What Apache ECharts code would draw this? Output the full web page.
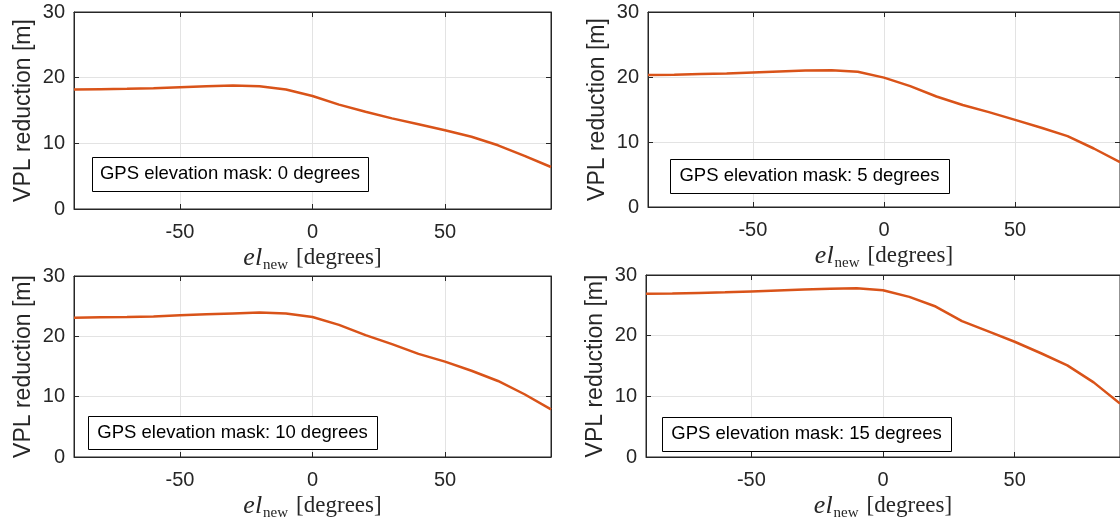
<!DOCTYPE html>
<html>
<head>
<meta charset="utf-8">
<script src="https://cdn.jsdelivr.net/npm/echarts@6/dist/echarts.min.js"></script>
<style>
  html, body { margin: 0; padding: 0; background: #fff; }
  #chart { width: 1120px; height: 522px; }
</style>
</head>
<body>
<div id="chart"></div>
<script>
// 数据
const elevations = [-90, -80, -70, -60, -50, -40, -30, -20, -10, 0, 10, 20, 30, 40, 50, 60, 70, 80, 90];
const vplMask0 = [18.2, 18.25, 18.3, 18.4, 18.55, 18.7, 18.8, 18.7, 18.2, 17.2, 15.9, 14.8, 13.8, 12.9, 12.0, 11.0, 9.7, 8.1, 6.4];
const vplMask5 = [20.3, 20.35, 20.45, 20.55, 20.7, 20.85, 21.0, 21.05, 20.8, 19.9, 18.6, 17.0, 15.7, 14.6, 13.4, 12.2, 10.9, 9.0, 6.9];
const vplMask10 = [23.1, 23.15, 23.2, 23.3, 23.5, 23.65, 23.8, 23.95, 23.8, 23.2, 21.9, 20.2, 18.7, 17.1, 15.8, 14.3, 12.6, 10.4, 7.9];
const vplMask15 = [26.9, 26.95, 27.05, 27.15, 27.3, 27.45, 27.6, 27.75, 27.8, 27.5, 26.4, 24.8, 22.4, 20.7, 19.0, 17.1, 15.1, 12.3, 8.8];
const maskLabels = ['GPS elevation mask: 0 degrees', 'GPS elevation mask: 5 degrees',
  'GPS elevation mask: 10 degrees', 'GPS elevation mask: 15 degrees'];
const xTicks = [-50, 0, 50];
const yTicks = [0, 10, 20, 30];

const seriesValues = [vplMask0, vplMask5, vplMask10, vplMask15];

// 每个子图的位置
const panels = [
  { left: 74, top: 12, width: 477, height: 197, box: [92, 157, 276, 34] },
  { left: 648, top: 12, width: 477, height: 195, box: [670, 159, 279, 34] },
  { left: 74, top: 276, width: 477, height: 189, box: [88, 416, 289, 33] },
  { left: 646, top: 275, width: 479, height: 192, box: [662, 417, 289, 34] }
];

const axisColor = '#262626';
const gridColor = '#e3e3e3';
const lineColor = '#D95319';

const grids = [], xAxes = [], yAxes = [], series = [], graphics = [];

panels.forEach((p, i) => {
  grids.push({
    left: p.left, top: p.top, width: p.width, height: p.height,
    show: true, borderColor: axisColor, borderWidth: 1, backgroundColor: '#fff'
  });

  // 底部 x 轴
  xAxes.push({
    type: 'value', gridIndex: i, min: -90, max: 90, position: 'bottom',
    name: '{a|el}{b|new}{c|[degrees]}',
    nameLocation: 'middle', nameGap: 34,
    nameTextStyle: {
      rich: {
        a: { fontFamily: 'Liberation Serif', fontStyle: 'italic', fontSize: 26, color: axisColor, lineHeight: 30, verticalAlign: 'middle', padding: [0, 1, 0, 0] },
        b: { fontFamily: 'Liberation Serif', fontSize: 15, color: axisColor, lineHeight: 30, verticalAlign: 'bottom', padding: [0, 8, 0, 0] },
        c: { fontFamily: 'Liberation Serif', fontSize: 23, color: axisColor, lineHeight: 30, verticalAlign: 'middle' }
      }
    },
    axisLine: { show: true, onZero: false, lineStyle: { color: axisColor, width: 1 } },
    axisTick: { show: true, inside: true, length: 5, customValues: xTicks, lineStyle: { color: axisColor } },
    axisLabel: { customValues: xTicks, color: axisColor, fontFamily: 'Liberation Sans', fontSize: 20, margin: 13 },
    splitLine: { show: true, lineStyle: { color: gridColor, width: 1 } }
  });
  // 顶部 x 轴（仅刻度）
  xAxes.push({
    type: 'value', gridIndex: i, min: -90, max: 90, position: 'top',
    axisLine: { show: true, onZero: false, lineStyle: { color: axisColor, width: 1 } },
    axisTick: { show: true, inside: true, length: 5, customValues: xTicks, lineStyle: { color: axisColor } },
    axisLabel: { show: false },
    splitLine: { show: false }
  });

  yAxes.push({
    type: 'value', gridIndex: i, min: 0, max: 30, interval: 10, position: 'left',
    name: 'VPL reduction [m]', nameLocation: 'middle', nameGap: 39,
    nameTextStyle: { color: axisColor, fontFamily: 'Liberation Sans', fontSize: 23 },
    axisLine: { show: true, onZero: false, lineStyle: { color: axisColor, width: 1 } },
    axisTick: { show: true, inside: true, length: 5, lineStyle: { color: axisColor } },
    axisLabel: { color: axisColor, fontFamily: 'Liberation Sans', fontSize: 20, margin: 9 },
    splitLine: { show: true, lineStyle: { color: gridColor, width: 1 } }
  });
  yAxes.push({
    type: 'value', gridIndex: i, min: 0, max: 30, interval: 10, position: 'right',
    axisLine: { show: true, onZero: false, lineStyle: { color: axisColor, width: 1 } },
    axisTick: { show: true, inside: true, length: 5, lineStyle: { color: axisColor } },
    axisLabel: { show: false },
    splitLine: { show: false }
  });

  series.push({
    type: 'line',
    xAxisIndex: i * 2, yAxisIndex: i * 2,
    data: elevations.map((x, k) => [x, seriesValues[i][k]]),
    showSymbol: false, smooth: false,
    lineStyle: { color: lineColor, width: 2.5 },
    itemStyle: { color: lineColor },
    z: 3
  });

  // 注释框
  const [bx, by, bw, bh] = p.box;
  graphics.push({
    type: 'rect', left: bx, top: by, z: 10,
    shape: { width: bw, height: bh },
    style: { fill: '#fff', stroke: '#000', lineWidth: 1 }
  });
  graphics.push({
    type: 'text', z: 11,
    x: bx + bw / 2, y: by + bh / 2,
    style: {
      text: maskLabels[i], fill: '#000',
      font: '18.5px "Liberation Sans"', align: 'center', verticalAlign: 'middle'
    }
  });
});

const chart = echarts.init(document.getElementById('chart'), null, { renderer: 'canvas' });
chart.setOption({
  animation: false,
  backgroundColor: '#fff',
  grid: grids,
  xAxis: xAxes,
  yAxis: yAxes,
  series: series,
  graphic: graphics
});
</script>
</body>
</html>
